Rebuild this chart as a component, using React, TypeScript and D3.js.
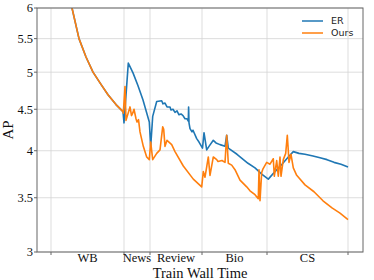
import * as d3 from 'd3';

const W = 374;
const H = 280;
const M = { top: 8, right: 11, bottom: 28, left: 37 };

// task boundaries on the wall-time axis, and the task names between them
const boundaries = [0, 73, 99, 151, 216, 297];
const tasks = ['WB', 'News', 'Review', 'Bio', 'CS'];
const yTicks = [3, 3.5, 4, 4.5, 5, 5.5, 6];

// first task: both methods follow the same curve
const warmup: [number, number][] = [
  [0, 9.0], [8, 7.6], [15, 6.6], [21, 6.0], [28, 5.5], [35, 5.22], [42, 5.0],
  [50, 4.83], [57, 4.69], [65, 4.56], [72, 4.47],
];

const er: [number, number][] = [
  [73, 4.33], [77.3, 5.13], [82, 4.99], [87, 4.81], [92, 4.62], [98.3, 4.34], [99.7, 4.05],
  [101.7, 4.41], [105.7, 4.6], [110.7, 4.61], [112, 4.57], [114, 4.58], [116, 4.53],
  [119, 4.53], [120, 4.49], [122, 4.5], [124, 4.46], [126, 4.48], [128, 4.43], [130, 4.44],
  [132, 4.42], [134, 4.38], [136, 4.38], [137.3, 4.35], [137.6, 4.53], [138, 4.33],
  [139, 4.26], [141, 4.22], [142, 4.24], [145.7, 4.14], [148, 4.1], [151.5, 4.03], [153, 4.21],
  [155.7, 4.01], [158, 4.05], [162.3, 4.12], [165, 4.09], [169, 4.07], [174, 4.05],
  [175.7, 4.18], [177.3, 4.03], [186, 3.96], [197, 3.86], [204, 3.81], [211, 3.74],
  [217.3, 3.69], [224, 3.77], [231, 3.85], [237.3, 3.93], [242.3, 3.99], [248, 3.97],
  [254, 3.96], [262, 3.94], [269, 3.92], [276, 3.9], [283, 3.87], [290, 3.85], [297, 3.82],
];

const ours: [number, number][] = [
  [72.3, 4.45], [74, 4.8], [75, 4.36], [79, 4.53], [80.5, 4.42], [81.7, 4.45], [83, 4.5],
  [85, 4.38], [86, 4.34], [87.5, 4.37], [89, 4.22], [92.3, 4.05], [95.7, 3.93], [98.3, 3.9],
  [99.7, 4.1], [101.7, 3.9], [105.7, 3.97], [109, 4.01], [111.7, 4.28], [112.7, 4.25],
  [114, 4.05], [116, 4.12], [120.7, 4.07], [124, 3.99], [132.3, 3.83], [142.3, 3.69],
  [150.7, 3.61], [152.3, 3.77], [154, 3.71], [155.7, 3.82], [157.3, 3.93], [159, 3.73],
  [162.3, 3.93], [165.7, 3.9], [167, 3.88], [171, 3.89], [174, 3.87], [175.7, 4.18],
  [177.3, 3.86], [180.7, 3.84], [184, 3.79], [189, 3.68], [195.7, 3.61], [199, 3.57],
  [204, 3.53], [207.3, 3.49], [208, 3.79], [209, 3.47], [210.7, 3.76], [212, 3.8],
  [215.7, 3.87], [219, 3.85], [222.3, 3.91], [223.3, 3.72], [225.7, 3.89], [227.3, 3.72],
  [229, 3.93], [230, 3.72], [232.3, 3.9], [234.7, 3.97], [236.3, 4.18], [237.3, 4.0],
  [238, 3.87], [240, 3.96], [242.3, 3.81], [245.7, 3.73], [254, 3.63], [263, 3.56],
  [272, 3.47], [281, 3.4], [289, 3.35], [297, 3.29],
];

const series = [
  { name: 'ER', color: '#1f77b4', data: [...warmup, ...er] },
  { name: 'Ours', color: '#ff7f0e', data: [...warmup, ...ours] },
];

const x = d3.scaleLinear([-14, 312], [M.left, W - M.right]);
const y = d3.scaleLog([3, 6], [H - M.bottom, M.top]);
const line = d3.line<[number, number]>().x(d => x(d[0])).y(d => y(d[1]));

const serif = "'Liberation Serif', 'Times New Roman', serif";
const mids = tasks.map((_, i) => (boundaries[i] + boundaries[i + 1]) / 2);

export default function App() {
  const x0 = M.left, x1 = W - M.right, y0 = M.top, y1 = H - M.bottom;
  return (
    <svg width={W} height={H} style={{ position: 'absolute', left: 0, top: 0, background: '#fff' }}>
      <defs>
        <clipPath id="plot"><rect x={x0} y={y0} width={x1 - x0} height={y1 - y0} /></clipPath>
      </defs>
      {/* grid */}
      {yTicks.map(t => (
        <line key={'gy' + t} x1={x0} x2={x1} y1={y(t)} y2={y(t)} stroke="#d4d4d4" strokeWidth={0.8} />
      ))}
      {boundaries.map(b => (
        <line key={'gx' + b} x1={x(b)} x2={x(b)} y1={y0} y2={y1} stroke="#d4d4d4" strokeWidth={0.8} />
      ))}
      {/* lines */}
      <g clipPath="url(#plot)">
        {series.map(s => (
          <path key={s.name} d={line(s.data) ?? ''} fill="none" stroke={s.color} strokeWidth={1.6}
            strokeLinejoin="round" />
        ))}
      </g>
      {/* frame */}
      <rect x={x0} y={y0} width={x1 - x0} height={y1 - y0} fill="none" stroke="#666" strokeWidth={1} />
      {/* y axis */}
      {yTicks.map(t => (
        <g key={'ty' + t}>
          <line x1={x0 - 3} x2={x0} y1={y(t)} y2={y(t)} stroke="#666" />
          <text x={x0 - 4} y={y(t)} dy="0.35em" textAnchor="end" fontFamily={serif} fontSize={12.5} fill="#111">
            {t}
          </text>
        </g>
      ))}
      {/* x axis */}
      {boundaries.map(b => (
        <line key={'tx' + b} x1={x(b)} x2={x(b)} y1={y1} y2={y1 + 3} stroke="#666" />
      ))}
      {tasks.map((t, i) => (
        <text key={t} x={x(mids[i])} y={y1 + 10} textAnchor="middle" fontFamily={serif} fontSize={12.5} fill="#111">
          {t}
        </text>
      ))}
      <text x={(x0 + x1) / 2} y={H - 2} textAnchor="middle" fontFamily={serif} fontSize={14.5} fill="#111">
        Train Wall Time
      </text>
      <text transform={`translate(13,${(y0 + y1) / 2}) rotate(-90)`} textAnchor="middle"
        fontFamily={serif} fontSize={15} fill="#111">AP</text>
      {/* legend */}
      {series.map((s, i) => (
        <g key={'lg' + s.name} transform={`translate(302,${21 + i * 12})`}>
          <line x1={0} x2={21} y1={0} y2={0} stroke={s.color} strokeWidth={1.5} />
          <text x={29} y={0} dy="0.35em" fontFamily="'DejaVu Sans', sans-serif" fontSize={9.5} fill="#222">
            {s.name}
          </text>
        </g>
      ))}
    </svg>
  );
}
